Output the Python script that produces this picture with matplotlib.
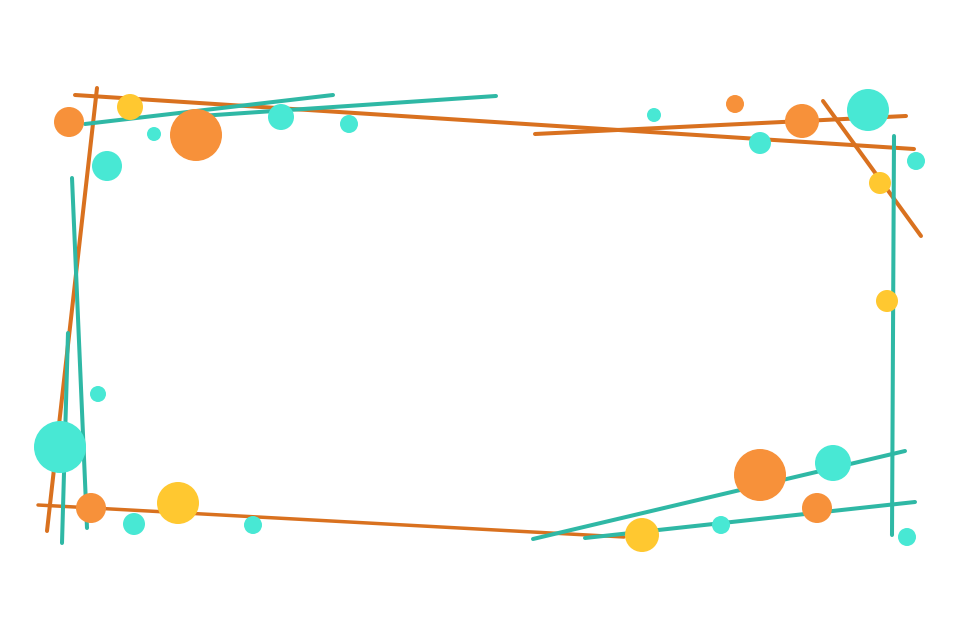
import matplotlib
matplotlib.use("Agg")
import matplotlib.pyplot as plt
from matplotlib.patches import Circle

# line segments: x0, y0, x1, y1 (pixel space, y down)
orange_lines = [
    (75, 95, 914, 149),
    (535, 134, 906, 116),
    (823, 101, 921, 236),
    (97, 88, 47, 531),
]
orange_thin_lines = [
    (38, 505, 624, 537),
]
teal_lines = [
    (85, 124, 333, 95),
    (200, 116, 496, 96),
    (72, 178, 87, 528),
    (68, 333, 62, 543),
    (894, 136, 892, 535),
    (533, 539, 905, 451),
    (585, 538, 915, 502),
]

# circles: x, y, radius
orange_dots = [
    (69, 122, 15), (196, 135, 26), (735, 104, 9), (802, 121, 17),
    (91, 508, 15), (760, 475, 26), (817, 508, 15),
]
yellow_dots = [
    (130, 107, 13), (880, 183, 11), (887, 301, 11),
    (178, 503, 21), (642, 535, 17),
]
teal_dots = [
    (107, 166, 15), (154, 134, 7), (281, 117, 13), (349, 124, 9),
    (654, 115, 7), (760, 143, 11), (868, 110, 21), (916, 161, 9),
    (98, 394, 8), (60, 447, 26), (134, 524, 11), (253, 525, 9),
    (833, 463, 18), (721, 525, 9), (907, 537, 9),
]

fig = plt.figure(figsize=(9.54, 6.36), dpi=100)
ax = fig.add_axes([0, 0, 1, 1])
ax.set_xlim(0, 954)
ax.set_ylim(636, 0)
ax.axis("off")

for x0, y0, x1, y1 in orange_lines:
    ax.plot([x0, x1], [y0, y1], color="#D9711F", lw=2.9, solid_capstyle="round", zorder=1)
for x0, y0, x1, y1 in orange_thin_lines:
    ax.plot([x0, x1], [y0, y1], color="#D9711F", lw=2.5, solid_capstyle="round", zorder=1)
for x0, y0, x1, y1 in teal_lines:
    ax.plot([x0, x1], [y0, y1], color="#2FB8A5", lw=2.9, solid_capstyle="round", zorder=2)

for dots, col in [(orange_dots, "#F7913A"), (yellow_dots, "#FFC830"), (teal_dots, "#48E8D4")]:
    for x, y, r in dots:
        ax.add_patch(Circle((x, y), r, color=col, lw=0, zorder=3))

fig.savefig("out.png", dpi=100, facecolor="white")
